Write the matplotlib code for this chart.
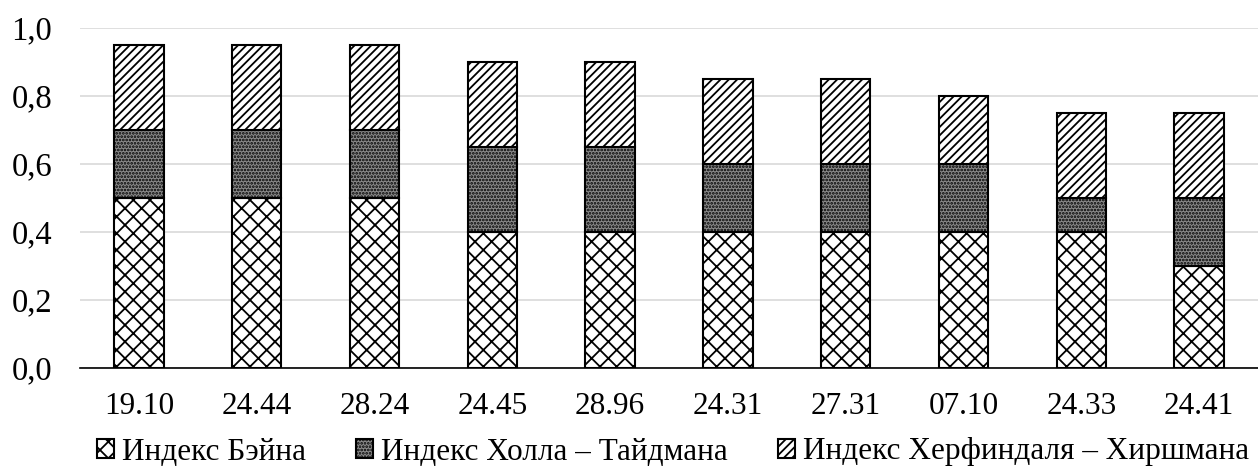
import matplotlib
matplotlib.use("Agg")
import matplotlib.pyplot as plt
import numpy as np

plt.rcParams['font.family'] = ['Liberation Serif', 'DejaVu Serif']
plt.rcParams['hatch.linewidth'] = 1.3

# данные
categories = ["19.10", "24.44", "28.24", "24.45", "28.96", "24.31", "27.31", "07.10", "24.33", "24.41"]
bain = [0.5, 0.5, 0.5, 0.4, 0.4, 0.4, 0.4, 0.4, 0.4, 0.3]
hall_tideman = [0.2, 0.2, 0.2, 0.25, 0.25, 0.2, 0.2, 0.2, 0.1, 0.2]
herfindahl = [0.25, 0.25, 0.25, 0.25, 0.25, 0.25, 0.25, 0.2, 0.25, 0.25]
series_names = ["Индекс Бэйна", "Индекс Холла – Тайдмана", "Индекс Херфиндаля – Хиршмана"]
y_ticks = [0.0, 0.2, 0.4, 0.6, 0.8, 1.0]

fig = plt.figure(figsize=(12.58, 4.66), dpi=100)
ax = fig.add_axes([80 / 1258, 98 / 466, 1178 / 1258, 340 / 466])

x = np.arange(len(categories))
w = 0.42
b1 = np.array(bain)
b2 = b1 + np.array(hall_tideman)

ax.bar(x, bain, w, color='white', edgecolor='black', hatch='xx', linewidth=1.5,
       label=series_names[0], zorder=3)
ax.bar(x, hall_tideman, w, bottom=b1, color='#8a8a8a', edgecolor='black', hatch='.....',
       linewidth=1.5, label=series_names[1], zorder=3)
ax.bar(x, herfindahl, w, bottom=b2, color='white', edgecolor='black', hatch='////',
       linewidth=1.5, label=series_names[2], zorder=3)

ax.set_xlim(-0.5, len(categories) - 0.5)
ax.set_ylim(0, 1.0)
ax.set_yticks(y_ticks)
ax.set_yticklabels([f"{v:.1f}".replace('.', ',') for v in y_ticks])
ax.set_xticks(x)
ax.set_xticklabels(categories)
ax.tick_params(axis='x', length=0, labelsize=22.5, pad=17)
ax.tick_params(axis='y', length=0, labelsize=23.5, pad=20)

ax.grid(axis='y', color='#d9d9d9', linewidth=1.2, zorder=0)
for s in ['top', 'right', 'left']:
    ax.spines[s].set_visible(False)
ax.spines['bottom'].set_linewidth(1.2)
ax.spines['bottom'].set_zorder(4)

fig.legend(loc='center', bbox_to_anchor=(673 / 1258, 1 - 452 / 466), ncol=3, frameon=False,
           fontsize=22.5, handlelength=0.55, handleheight=0.55, handletextpad=0.25,
           columnspacing=1.6, borderpad=0)

fig.savefig("out.png", dpi=100)
